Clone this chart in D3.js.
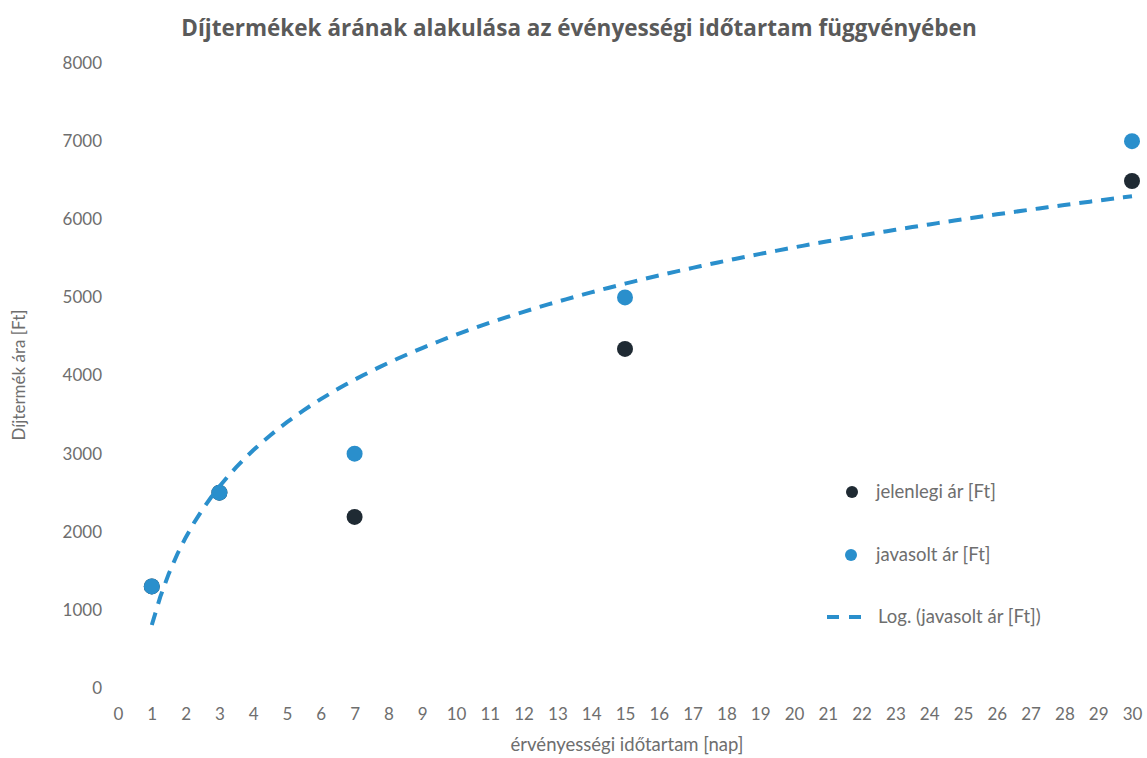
<!DOCTYPE html>
<html><head><meta charset="utf-8">
<script src="https://cdn.jsdelivr.net/npm/d3@7"></script>
<style>body{margin:0;background:#fff;} svg{display:block;font-family:Lato,"Open Sans",sans-serif;}</style>
</head><body>
<svg id="c" width="1147" height="758"></svg>
<script>
const title = "Díjtermékek árának alakulása az évényességi időtartam függvényében";
const xLabel = "érvényességi időtartam [nap]";
const yLabel = "Díjtermék ára [Ft]";
const days = [1, 3, 7, 15, 30];
const currentPrice = [1300, 2500, 2190, 4340, 6490];
const proposedPrice = [1300, 2500, 3000, 5000, 7000];
const xTicks = d3.range(0, 31, 1);
const yTicks = [0, 1000, 2000, 3000, 4000, 5000, 6000, 7000, 8000];
const legendLabels = ["jelenlegi ár [Ft]", "javasolt ár [Ft]", "Log. (javasolt ár [Ft])"];

const blue = "#2a8fcc", dark = "#1f2a33", txt = "#6e6e6e";
const svg = d3.select("#c");
const m = {l:118, r:1147-1132, t:63, b:758-688};
const W = 1147, H = 758;
const x = d3.scaleLinear().domain([0,30]).range([m.l, W-m.r]);
const y = d3.scaleLinear().domain([0,8000]).range([H-m.b, m.t]);

// title
svg.append("text").attr("x", 579).attr("y", 36).attr("text-anchor","middle")
  .attr("font-family","'Open Sans',Lato,sans-serif")
  .attr("font-size", 22.5).attr("font-weight","bold").attr("fill","#5a5a5a").text(title);

// axes
const xa = svg.append("g").attr("transform",`translate(0,${H-m.b})`)
  .call(d3.axisBottom(x).tickValues(xTicks).tickSize(0).tickPadding(20).tickFormat(d3.format("d")));
xa.select(".domain").remove();
xa.selectAll("text").attr("font-size",17).attr("fill",txt).attr("font-family","Lato,'Open Sans',sans-serif");

const ya = svg.append("g").attr("transform",`translate(${m.l},0)`)
  .call(d3.axisLeft(y).tickValues(yTicks).tickSize(0).tickPadding(16).tickFormat(d3.format("d")));
ya.select(".domain").remove();
ya.selectAll("text").attr("font-size",17).attr("fill",txt).attr("font-family","Lato,'Open Sans',sans-serif");

svg.append("text").attr("x", 627).attr("y", 751).attr("text-anchor","middle")
  .attr("font-size",18.5).attr("fill",txt).text(xLabel);
svg.append("text").attr("transform","translate(25,375) rotate(-90)").attr("text-anchor","middle")
  .attr("font-size",17).attr("fill",txt).text(yLabel);

// log regression on proposed prices
const lx = days.map(Math.log);
const mx = d3.mean(lx), my = d3.mean(proposedPrice);
const a = d3.sum(lx.map((v,i)=>(v-mx)*(proposedPrice[i]-my))) / d3.sum(lx.map(v=>(v-mx)**2));
const b = my - a*mx;
const trend = d3.range(1, 30.01, 0.25).map(t => [t, a*Math.log(t)+b]);

// points
svg.append("g").selectAll("circle").data(days).join("circle")
  .attr("cx", d=>x(d)).attr("cy",(d,i)=>y(currentPrice[i])).attr("r",8).attr("fill",dark);
svg.append("g").selectAll("circle").data(days).join("circle")
  .attr("cx", d=>x(d)).attr("cy",(d,i)=>y(proposedPrice[i])).attr("r",8).attr("fill",blue);

svg.append("path").datum(trend)
  .attr("d", d3.line().x(d=>x(d[0])).y(d=>y(d[1])))
  .attr("fill","none").attr("stroke",blue).attr("stroke-width",4)
  .attr("stroke-dasharray","13,9");

// legend
const lg = svg.append("g");
lg.append("circle").attr("cx",852).attr("cy",492).attr("r",6).attr("fill",dark);
lg.append("circle").attr("cx",851).attr("cy",555).attr("r",6).attr("fill",blue);
lg.append("line").attr("x1",827).attr("x2",861).attr("y1",617).attr("y2",617)
  .attr("stroke",blue).attr("stroke-width",4).attr("stroke-dasharray","12,10");
const ly = [498, 561, 623], lxs = [876, 876, 878];
legendLabels.forEach((t,i)=>lg.append("text").attr("x",lxs[i]).attr("y",ly[i])
  .attr("font-size",18.5).attr("fill",txt).text(t));
</script>
</body></html>
